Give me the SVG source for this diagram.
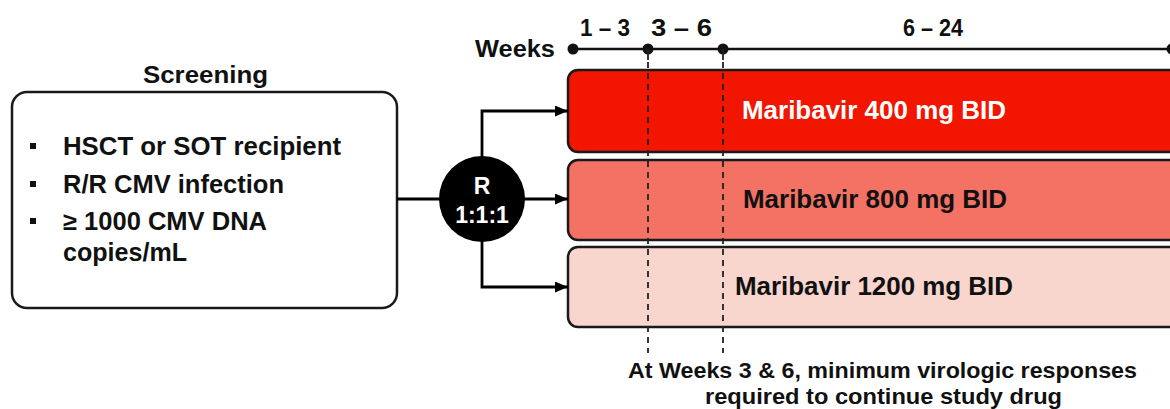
<svg xmlns="http://www.w3.org/2000/svg" width="1170" height="409" viewBox="0 0 1170 409">
  <style>
    text { font-family: "Liberation Sans", Arial, sans-serif; font-weight: bold; fill: #111; }
    .box { fill: #ffffff; stroke: #1a1a1a; stroke-width: 2.5; }
    .bar { stroke: #1a1a1a; stroke-width: 2.5; }
    .conn { fill: none; stroke: #000; stroke-width: 2.8; }
    .tl { fill: none; stroke: #111; stroke-width: 2.5; }
    .dash { fill: none; stroke: #222; stroke-width: 1.8; stroke-dasharray: 6 5; }
    .tick { fill: none; stroke: #222; stroke-width: 1.8; }
    .dot { fill: #111; }
    .bullet { fill: #111; }
  </style>
  <defs>
    <marker id="arrow" markerUnits="userSpaceOnUse" markerWidth="14" markerHeight="12" refX="13" refY="5.5" orient="auto">
      <path d="M0,0 L13,5.5 L0,11 z" fill="#000"/>
    </marker>
  </defs>

  <rect width="1170" height="409" fill="#ffffff"/>

  <!-- Screening node -->
  <g id="screening">
    <text x="143" y="83" font-size="23" textLength="125" lengthAdjust="spacingAndGlyphs">Screening</text>
    <rect class="box" x="12" y="92" width="385" height="216" rx="15" ry="15"/>
    <rect class="bullet" x="30" y="143" width="6" height="6"/>
    <text x="63" y="155" font-size="25" textLength="278" lengthAdjust="spacingAndGlyphs">HSCT or SOT recipient</text>
    <rect class="bullet" x="30" y="181" width="6" height="6"/>
    <text x="63" y="193" font-size="25" textLength="221" lengthAdjust="spacingAndGlyphs">R/R CMV infection</text>
    <rect class="bullet" x="30" y="218" width="6" height="6"/>
    <text x="63" y="230" font-size="25" textLength="204" lengthAdjust="spacingAndGlyphs">≥ 1000 CMV DNA</text>
    <text x="63" y="261" font-size="25" textLength="124" lengthAdjust="spacingAndGlyphs">copies/mL</text>
  </g>

  <!-- Treatment arms -->
  <g id="arm-400">
    <rect class="bar" x="568" y="70" width="615" height="82" rx="10" ry="10" fill="#F21500"/>
    <text x="742" y="119" font-size="25" style="fill:#ffffff" textLength="264" lengthAdjust="spacingAndGlyphs">Maribavir 400 mg BID</text>
  </g>
  <g id="arm-800">
    <rect class="bar" x="568" y="160" width="615" height="80" rx="10" ry="10" fill="#F47264"/>
    <text x="743" y="208" font-size="25" textLength="264" lengthAdjust="spacingAndGlyphs">Maribavir 800 mg BID</text>
  </g>
  <g id="arm-1200">
    <rect class="bar" x="568" y="247" width="615" height="80" rx="10" ry="10" fill="#F8D6CE"/>
    <text x="735" y="295" font-size="25" textLength="278" lengthAdjust="spacingAndGlyphs">Maribavir 1200 mg BID</text>
  </g>

  <!-- Timeline -->
  <g id="timeline">
    <text x="475" y="57" font-size="23" textLength="80" lengthAdjust="spacingAndGlyphs">Weeks</text>
    <text x="580" y="36" font-size="23" textLength="50" lengthAdjust="spacingAndGlyphs">1 – 3</text>
    <text x="651" y="36" font-size="23" textLength="61" lengthAdjust="spacingAndGlyphs">3 – 6</text>
    <text x="903" y="36" font-size="23" textLength="60" lengthAdjust="spacingAndGlyphs">6 – 24</text>
    <line class="tl" x1="573" y1="49" x2="1172" y2="49"/>
    <circle class="dot" cx="573" cy="49" r="5.5"/>
    <circle class="dot" cx="648" cy="49" r="5.5"/>
    <circle class="dot" cx="723" cy="49" r="5.5"/>
    <circle class="dot" cx="1172" cy="49" r="5.5"/>
    <line class="tick" x1="648" y1="49" x2="648" y2="60"/>
    <line class="tick" x1="723" y1="49" x2="723" y2="60"/>
    <line class="dash" x1="648" y1="62" x2="648" y2="353"/>
    <line class="dash" x1="723" y1="62" x2="723" y2="353"/>
  </g>

  <!-- Connectors -->
  <g id="connectors">
    <line class="conn" x1="397" y1="199" x2="440" y2="199"/>
    <polyline class="conn" points="482,157 482,111 568,111" marker-end="url(#arrow)"/>
    <line class="conn" x1="524" y1="199" x2="568" y2="199" marker-end="url(#arrow)"/>
    <polyline class="conn" points="482,241 482,287 568,287" marker-end="url(#arrow)"/>
  </g>

  <!-- Randomisation node -->
  <g id="randomization">
    <circle cx="482" cy="199" r="43" fill="#000"/>
    <text x="482" y="194" font-size="23" text-anchor="middle" style="fill:#ffffff">R</text>
    <text x="482" y="223" font-size="23" text-anchor="middle" style="fill:#ffffff">1:1:1</text>
  </g>

  <!-- Note -->
  <g id="note">
    <text x="628" y="378" font-size="22" textLength="509" lengthAdjust="spacingAndGlyphs">At Weeks 3 &amp; 6, minimum virologic responses</text>
    <text x="705" y="404" font-size="22" textLength="357" lengthAdjust="spacingAndGlyphs">required to continue study drug</text>
  </g>
</svg>
